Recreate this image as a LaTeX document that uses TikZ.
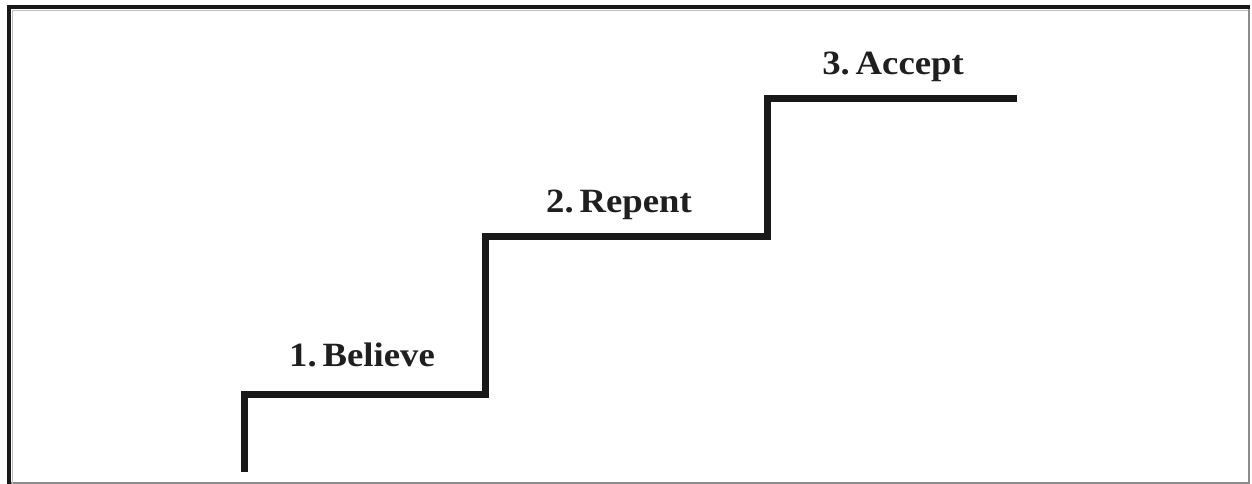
\documentclass[tikz,border=0pt]{standalone}
\usepackage{fontspec}
\setmainfont{Liberation Serif}
\begin{document}
\begin{tikzpicture}[x=1pt,y=-1pt,
  stair/.style={line width=7pt,line join=miter,line cap=butt,black!90},
  lbl/.style={font=\fontsize{34}{36}\selectfont\bfseries,text=black!88,anchor=base,inner sep=0pt,xscale=1.08}]
\useasboundingbox (0,0) rectangle (1252,484);
\fill[white] (0,0) rectangle (1252,484);
% frame
\draw[line width=2pt,black!45] (1249,8) -- (1249,482.5) -- (9,482.5);
\draw[line width=1pt,black!25] (12.5,484) -- (12.5,10.5) -- (1248,10.5);
\draw[line width=4pt,black!90] (9,484) -- (9,7) -- (1250,7);
% stairs
\coordinate (s0) at (244.5,472);
\coordinate (s1) at (244.5,394);
\coordinate (s2) at (485,394);
\coordinate (s3) at (485,236);
\coordinate (s4) at (767,236);
\coordinate (s5) at (767,99);
\coordinate (s6) at (1017,99);
\draw[stair] (s0) -- (s1) -- (s2) -- (s3) -- (s4) -- (s5) -- (s6);
% labels
\node[lbl] (l1) at (362,366) {1.\hspace{0.16em}Believe};
\node[lbl] (l2) at (619,212) {2.\hspace{0.16em}Repent};
\node[lbl] (l3) at (893,75) {3.\hspace{0.16em}Accept};
\end{tikzpicture}
\end{document}
